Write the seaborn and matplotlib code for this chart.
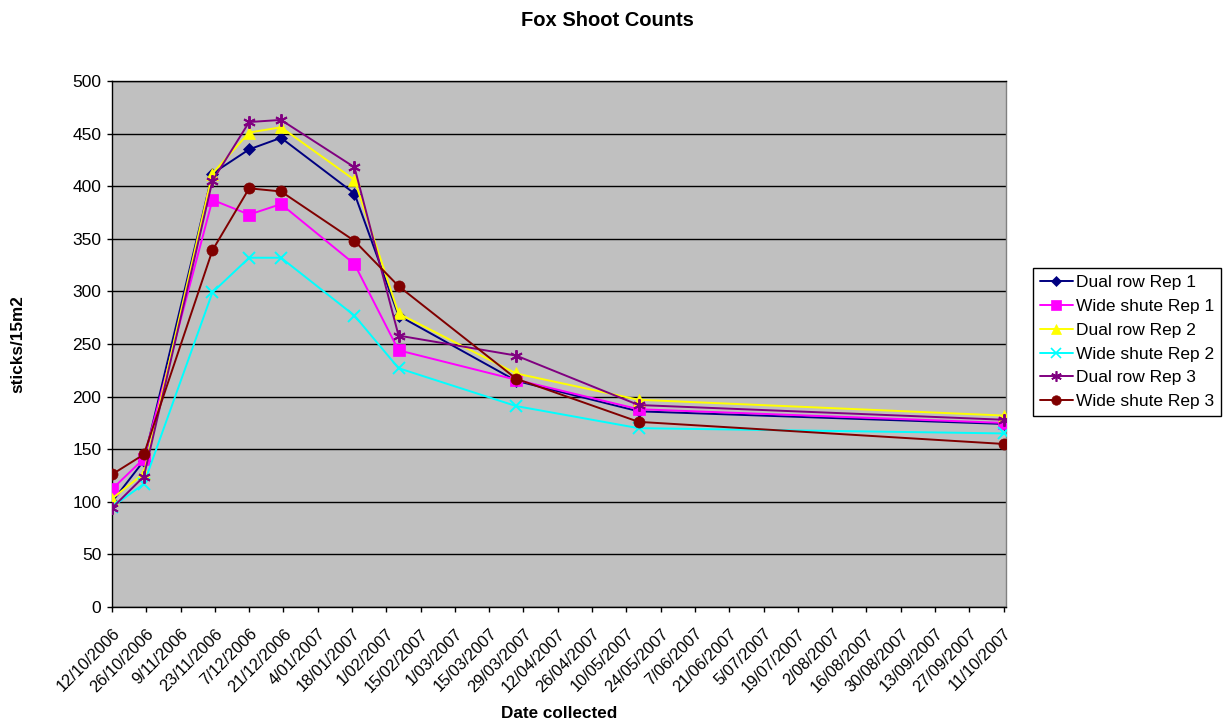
import datetime as dt
import matplotlib
matplotlib.use("Agg")
import matplotlib.pyplot as plt
import matplotlib.dates as mdates
import matplotlib.transforms as mtransforms
import numpy as np
import pandas as pd
import seaborn as sns

# Collection dates
dates = ["2006-10-12", "2006-10-25", "2006-11-22", "2006-12-07", "2006-12-20",
         "2007-01-19", "2007-02-06", "2007-03-26", "2007-05-15", "2007-10-11"]

# Shoot counts (sticks per 15 m2) for each treatment / replicate
dual_row_rep1 = [100, 139, 412, 435, 446, 393, 277, 215, 186, 174]
wide_shute_rep1 = [112, 141, 387, 373, 383, 326, 244, 216, 188, 175]
dual_row_rep2 = [103, 127, 412, 451, 456, 406, 279, 222, 197, 182]
wide_shute_rep2 = [95, 117, 299, 332, 332, 277, 227, 191, 170, 165]
dual_row_rep3 = [94, 124, 405, 461, 463, 418, 258, 239, 192, 178]
wide_shute_rep3 = [126, 145, 339, 398, 395, 348, 305, 217, 176, 155]

series_names = ["Dual row Rep 1", "Wide shute Rep 1", "Dual row Rep 2",
                "Wide shute Rep 2", "Dual row Rep 3", "Wide shute Rep 3"]
series_values = [dual_row_rep1, wide_shute_rep1, dual_row_rep2,
                 wide_shute_rep2, dual_row_rep3, wide_shute_rep3]

colors = ["#000080", "#FF00FF", "#FFFF00", "#00FFFF", "#800080", "#800000"]
markers = ["D", "s", "^", "x", (6, 2, 0), "o"]
marker_sizes = [6, 8, 9, 8, 9, 8]
line_art = [False, False, False, True, True, False]

frames = []
for name, vals in zip(series_names, series_values):
    frames.append(pd.DataFrame({"date": pd.to_datetime(dates), "count": vals,
                                "series": name}))
df = pd.concat(frames, ignore_index=True)

sns.set_theme(style="white")
plt.rcParams["font.family"] = ["Liberation Sans", "DejaVu Sans"]
plt.rcParams["text.color"] = "black"
plt.rcParams["xtick.color"] = "black"
plt.rcParams["ytick.color"] = "black"
plt.rcParams["axes.labelcolor"] = "black"

fig = plt.figure(figsize=(12.29, 7.25), dpi=100)
ax = fig.add_axes([112 / 1229, 1 - 607 / 725, (1006 - 112) / 1229, (607 - 81) / 725])
ax.set_facecolor("#C0C0C0")

# One lineplot per series so filled and line-art markers can coexist
for name, c, mk, ms, la in zip(series_names, colors, markers, marker_sizes, line_art):
    sub = df[df["series"] == name]
    sns.lineplot(data=sub, x="date", y="count", color=c, marker=mk,
                 markersize=ms, markeredgecolor=c, markerfacecolor=c,
                 markeredgewidth=1.4 if la else 0.5,
                 linewidth=1.4, legend=False, ax=ax, zorder=3)

# Fortnightly date axis
start = dt.date(2006, 10, 12)
tick_dates = [start + dt.timedelta(days=14 * i) for i in range(27)]
tick_labels = [f"{d.day}/{d.month:02d}/{d.year}" for d in tick_dates]
ax.set_xticks(mdates.date2num(tick_dates))
ax.set_xticklabels(tick_labels, rotation=45, ha="right", rotation_mode="anchor",
                   fontsize=11.8)
ax.set_xlim(mdates.date2num(tick_dates[0]), mdates.date2num(tick_dates[-1]) + 1)
shift = mtransforms.ScaledTranslation(-6 / 100, 0, fig.dpi_scale_trans)
for lbl in ax.get_xticklabels():
    lbl.set_transform(lbl.get_transform() + shift)

ax.set_ylim(0, 500)
ax.set_yticks(np.arange(0, 501, 50))
ax.tick_params(axis="y", labelsize=12.5, length=3.6, width=1, color="black",
               direction="out", left=True, pad=4)
ax.tick_params(axis="x", length=3.6, width=1, color="black", direction="out",
               bottom=True, pad=10)

ax.yaxis.grid(True, color="black", linewidth=1.0)
ax.xaxis.grid(False)
ax.set_axisbelow(True)

for side in ("left", "bottom", "top"):
    ax.spines[side].set_color("black")
    ax.spines[side].set_linewidth(1.0)
ax.spines["right"].set_color("#808080")
ax.spines["right"].set_linewidth(1.0)

ax.set_xlabel("Date collected", fontsize=12.3, fontweight="bold")
ax.set_ylabel("sticks/15m2", fontsize=12.3, fontweight="bold")
ax.xaxis.set_label_coords(0.5, (607 - 706) / 526)
ax.yaxis.set_label_coords((25 - 112) / 894, 0.5)

fig.text(607 / 1229, 1 - 21 / 725, "Fox Shoot Counts", fontsize=14.5,
         fontweight="bold", ha="center", va="center")

handles = [plt.Line2D([], [], color=c, marker=m, markersize=ms * 0.85,
                      markerfacecolor=c, markeredgecolor=c, linewidth=1.4,
                      markeredgewidth=1.2 if la else 0.5)
           for c, m, ms, la in zip(colors, markers, marker_sizes, line_art)]
leg = fig.legend(handles, series_names, loc="upper left",
                 bbox_to_anchor=(1033 / 1229, 1 - 268 / 725),
                 fontsize=12.5, frameon=True, fancybox=False, framealpha=1,
                 edgecolor="black", handlelength=1.9, handletextpad=0.15,
                 labelspacing=0.5, borderpad=0.4, borderaxespad=0)
leg.get_frame().set_linewidth(1.0)

fig.savefig("out.png", dpi=100)
